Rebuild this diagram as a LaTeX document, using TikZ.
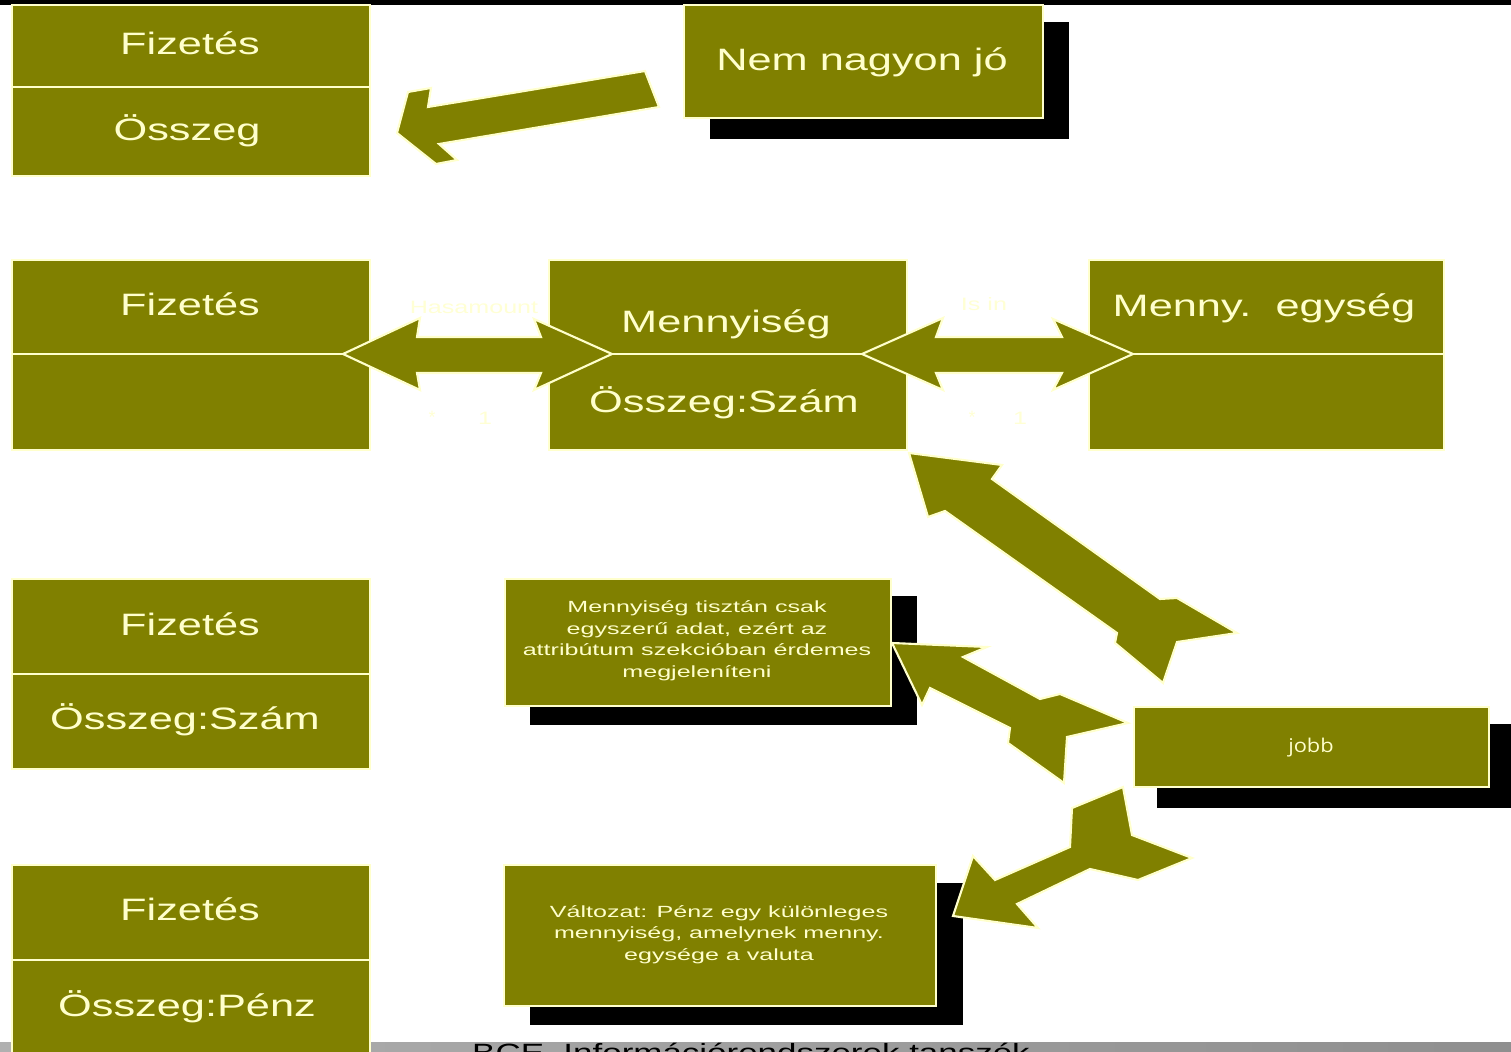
\documentclass[tikz,border=0pt]{standalone}
\usepackage{fontspec}
\setmainfont{Liberation Sans}
\newfontfamily\jobbfont{Open Sans}
\usepackage{graphicx}
\definecolor{olv}{RGB}{128,128,0}
\definecolor{lyel}{RGB}{255,255,204}
\definecolor{faintyel}{RGB}{255,255,212}
\newcommand{\sx}[1]{\scalebox{1.4}[1]{#1}}
\newcommand{\snote}[1]{\scalebox{1.55}[1]{#1}}
\tikzset{
  box/.style={rectangle, draw=lyel, line width=0.6pt, fill=olv, inner sep=0pt, outer sep=0pt, anchor=north west},
  shadowbox/.style={rectangle, fill=black, inner sep=0pt, outer sep=0pt, anchor=north west},
  divline/.style={draw=lyel, line width=0.6pt},
  bigtxt/.style={text=lyel, inner sep=0pt, anchor=base, font=\fontsize{8.8pt}{10pt}\selectfont},
  notetxt/.style={text=lyel, inner sep=0pt, anchor=base, font=\fontsize{4.6pt}{6pt}\selectfont},
  jobbtxt/.style={text=lyel, inner sep=0pt, anchor=base, font=\jobbfont\fontsize{5.4pt}{6pt}\selectfont},
  fainttxt/.style={text=faintyel, inner sep=0pt, anchor=base, font=\fontsize{5.1pt}{6pt}\selectfont},
  foottxt/.style={text=black, inner sep=0pt, anchor=base, font=\fontsize{7.1pt}{8pt}\selectfont},
  blockarrow/.style={fill=olv, draw=lyel, line width=0.6pt, line join=miter},
}
\begin{document}
\begin{tikzpicture}[x=0.01cm, y=-0.01cm]
\useasboundingbox (0,0) rectangle (1511,1052);
\clip (0,0) rectangle (1511,1052);
\fill[white] (0,0) rectangle (1511,1052);
\fill[black] (0,0) rectangle (1511,5);
% footer band
\shade[left color=gray!62, right color=gray!88] (0,1043) rectangle (1511,1052);
\node[foottxt] (foot) at (751,1061) {\sx{BCE, Információrendszerek tanszék}};

% shadows
\node[shadowbox, minimum width=3.59cm, minimum height=1.17cm] (nemsh) at (710,22) {};
\node[shadowbox, minimum width=3.87cm, minimum height=1.29cm] (n1sh) at (530,596) {};
\node[shadowbox, minimum width=3.60cm, minimum height=0.84cm] (jobbsh) at (1157,724) {};
\node[shadowbox, minimum width=4.33cm, minimum height=1.42cm] (n2sh) at (530,883) {};

% boxes
\node[box, minimum width=3.58cm, minimum height=1.71cm] (f1) at (12,5) {};
\draw[divline] (12,87) -- (370,87);
\node[box, minimum width=3.59cm, minimum height=1.13cm] (nem) at (684,5) {};
\node[box, minimum width=3.58cm, minimum height=1.90cm] (f2) at (12,260) {};
\draw[divline] (12,354) -- (370,354);
\node[box, minimum width=3.58cm, minimum height=1.90cm] (menny) at (549,260) {};
\draw[divline] (549,354) -- (907,354);
\node[box, minimum width=3.55cm, minimum height=1.90cm] (megys) at (1089,260) {};
\draw[divline] (1089,354) -- (1444,354);
\node[box, minimum width=3.58cm, minimum height=1.90cm] (f3) at (12,579) {};
\draw[divline] (12,674) -- (370,674);
\node[box, minimum width=3.86cm, minimum height=1.27cm] (note1) at (505,579) {};
\node[box, minimum width=3.55cm, minimum height=0.80cm] (jobb) at (1134,707) {};
\node[box, minimum width=3.58cm, minimum height=2.00cm] (f4) at (12,865) {};
\draw[divline] (12,960) -- (370,960);
\node[box, minimum width=4.32cm, minimum height=1.41cm] (note2) at (504,865) {};

% texts
\node[bigtxt] (t1) at (190,55) {\sx{Fizetés}};
\node[bigtxt] (t2) at (187,141) {\sx{Összeg}};
\node[bigtxt] (t3) at (862,71) {\sx{Nem nagyon jó}};
\node[bigtxt] (t4) at (190,316) {\sx{Fizetés}};
\node[bigtxt] (t5) at (726,333) {\sx{Mennyiség}};
\node[bigtxt] (t6) at (724,413) {\sx{Összeg:Szám}};
\node[bigtxt] (t7) at (1264,317) {\sx{Menny.\ \ egység}};
\node[bigtxt] (t8) at (190,636) {\sx{Fizetés}};
\node[bigtxt] (t9) at (185,730) {\sx{Összeg:Szám}};
\node[bigtxt] (t10) at (190,921) {\sx{Fizetés}};
\node[bigtxt] (t11) at (187,1017) {\sx{Összeg:Pénz}};

\node[notetxt] (n1a) at (697,613) {\snote{Mennyiség tisztán csak}};
\node[notetxt] (n1b) at (697,635) {\snote{egyszerű adat, ezért az}};
\node[notetxt] (n1c) at (697,656) {\snote{attribútum szekcióban érdemes}};
\node[notetxt] (n1d) at (697,678) {\snote{megjeleníteni}};
\node[notetxt] (n2a) at (719,918) {\snote{Változat: Pénz egy különleges}};
\node[notetxt] (n2b) at (719,939) {\snote{mennyiség, amelynek menny.}};
\node[notetxt] (n2c) at (719,961) {\snote{egysége a valuta}};
\node[jobbtxt] (tj) at (1311,753) {\scalebox{1.15}[1]{jobb}};

% faint association labels
\node[fainttxt] (has) at (474,314) {\sx{Hasamount}};
\node[fainttxt] (isin) at (984,311) {\sx{Is in}};
\node[fainttxt] (s1) at (432,424) {*};
\node[fainttxt] (o1) at (485,425) {\sx{1}};
\node[fainttxt] (s2) at (972,424) {*};
\node[fainttxt] (o2) at (1020,425) {\sx{1}};

% block arrows
\draw[blockarrow] (397,133) -- (408,92) -- (431,88) -- (428,107) -- (645,71) -- (659,107)
  -- (439,144) -- (457,160) -- (436,164) -- cycle;
\draw[blockarrow] (343,354) -- (420,318) -- (417,337) -- (541,337) -- (534,319) -- (612,354)
  -- (534,390) -- (541,373) -- (417,373) -- (420,390) -- cycle;
\draw[blockarrow] (862,354) -- (943,318) -- (936,337) -- (1062,337) -- (1053,319) -- (1133,354)
  -- (1053,390) -- (1062,373) -- (936,373) -- (943,390) -- cycle;
\draw[blockarrow] (909,453) -- (1002,465) -- (992,479) -- (1160,599) -- (1177,598) -- (1237,633)
  -- (1177,642) -- (1163,683) -- (1115,643) -- (1117,633) -- (945,511) -- (928,517) -- cycle;
\draw[blockarrow] (892,643) -- (987,647) -- (963,657) -- (1040,699) -- (1060,694) -- (1128,723)
  -- (1067,737) -- (1064,783) -- (1008,743) -- (1010,728) -- (930,688) -- (922,705) -- cycle;
\draw[blockarrow] (953,916) -- (973,856) -- (995,880) -- (1070,847) -- (1072,808) -- (1123,787)
  -- (1132,835) -- (1192,858) -- (1138,880) -- (1090,869) -- (1017,904) -- (1038,928) -- cycle;
\end{tikzpicture}
\end{document}
